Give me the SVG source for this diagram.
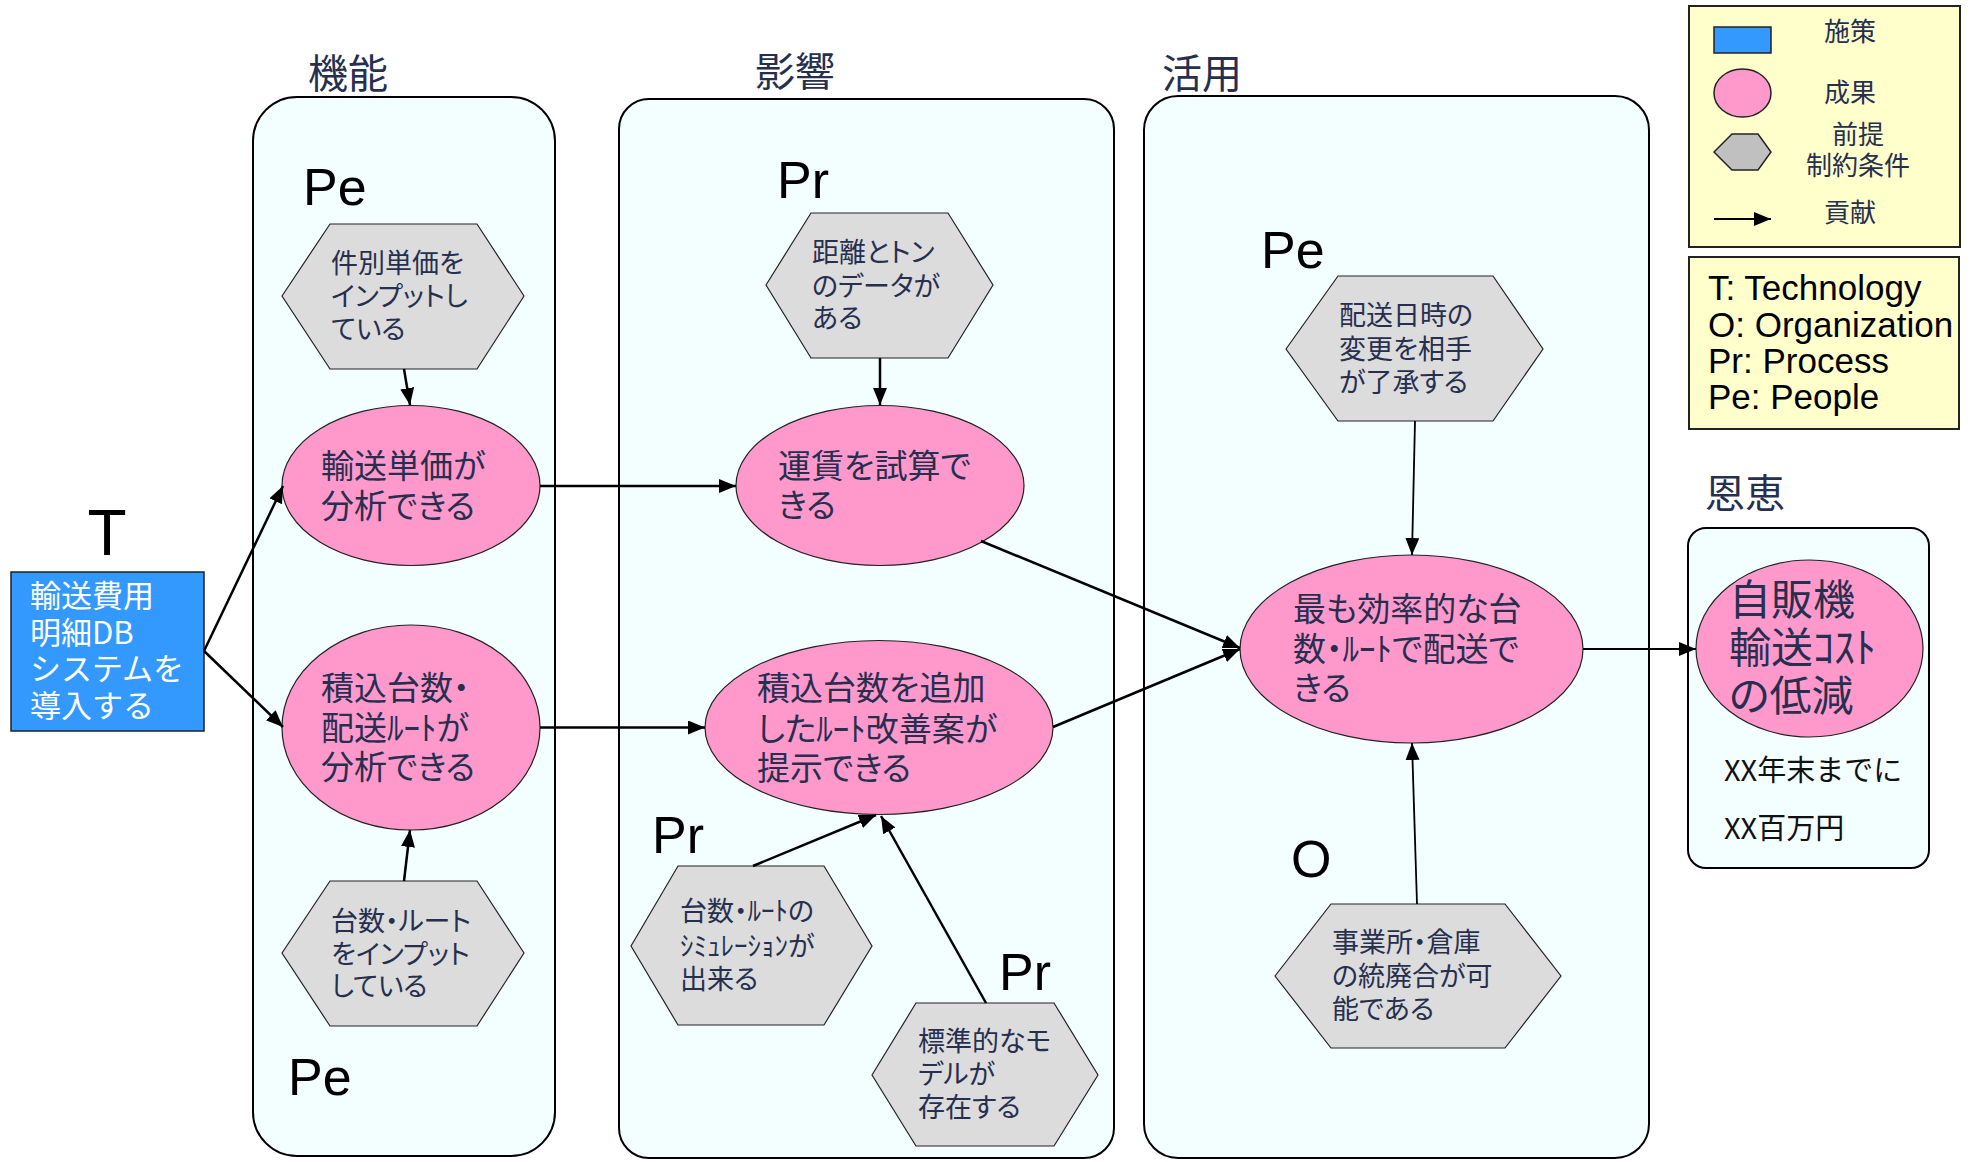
<svg xmlns="http://www.w3.org/2000/svg" width="1972" height="1162" viewBox="0 0 1972 1162">
<style>
.panel{fill:#f3ffff;stroke:#000;stroke-width:2}
.ell{fill:#ff99cc;stroke:#222;stroke-width:1.2}
.hex{fill:#dcdcdc;stroke:#222;stroke-width:1.2}
.jp{font-family:"Noto Sans CJK JP","Noto Sans",sans-serif;fill:#272f4f;font-feature-settings:"palt" 1}
.title{font-size:40px}
.et{font-size:33px}
.ht{font-size:27px}
.lat{font-family:"Liberation Sans",Arial,sans-serif;fill:#000}
.lbl{font-size:52px}
.conn{stroke:#000;stroke-width:2.5;fill:none;marker-end:url(#ah)}
.thin{stroke-width:1.8}
</style>
<defs>
<marker id="ah" markerUnits="userSpaceOnUse" markerWidth="18" markerHeight="16" refX="17" refY="7" orient="auto">
<path d="M0,0 L17,7 L0,14 z" fill="#000"/>
</marker>
</defs>
<rect width="1972" height="1162" fill="#fff"/>

<g id="panels">
<rect id="panel-kinou" class="panel" x="253" y="97" width="302" height="1059" rx="44" ry="44"/>
<rect id="panel-eikyou" class="panel" x="619" y="99" width="495" height="1059" rx="30" ry="30"/>
<rect id="panel-katsuyou" class="panel" x="1144" y="96" width="505" height="1062" rx="34" ry="34"/>
<rect id="panel-onkei" class="panel" x="1688" y="528" width="241" height="340" rx="18" ry="18"/>
<text class="jp title" x="308" y="88">機能</text>
<text class="jp title" x="755" y="86">影響</text>
<text class="jp title" x="1162" y="88">活用</text>
<text class="jp title" x="1705" y="508">恩恵</text>
</g>

<g id="labels">
<text class="lat" x="107" y="555" font-size="64" text-anchor="middle">T</text>
<text class="lat lbl" x="303" y="205">Pe</text>
<text class="lat lbl" x="288" y="1095">Pe</text>
<text class="lat lbl" x="777" y="198">Pr</text>
<text class="lat lbl" x="652" y="853">Pr</text>
<text class="lat lbl" x="999" y="990">Pr</text>
<text class="lat lbl" x="1261" y="268">Pe</text>
<text class="lat lbl" x="1291" y="877">O</text>
</g>

<g id="node-system">
<rect x="11" y="572" width="193" height="159" fill="#3399ff" stroke="#222" stroke-width="1.5"/>
<text font-family="Noto Sans CJK JP,sans-serif" font-size="31" fill="#fff"><tspan x="30" y="607">輸送費用</tspan><tspan x="30" y="644">明細DB</tspan><tspan x="30" y="680">システムを</tspan><tspan x="30" y="717">導入する</tspan></text>
</g>

<g id="node-e1">
<ellipse class="ell" cx="411" cy="485.5" rx="129" ry="80"/>
<text class="jp et"><tspan x="321" y="478">輸送単価が</tspan><tspan x="321" y="518">分析できる</tspan></text>
</g>
<g id="node-e2">
<ellipse class="ell" cx="411" cy="727.5" rx="129" ry="102.5"/>
<text class="jp et"><tspan x="321" y="700">積込台数・</tspan><tspan x="321" y="740">配送ﾙｰﾄが</tspan><tspan x="321" y="779">分析できる</tspan></text>
</g>
<g id="node-h1">
<polygon class="hex" points="282,296 330,224 477,224 524,296 477,369 330,369"/>
<text class="jp ht"><tspan x="331" y="273">件別単価を</tspan><tspan x="331" y="306">インプットし</tspan><tspan x="331" y="339">ている</tspan></text>
</g>
<g id="node-h2">
<polygon class="hex" points="282,953 330,881 477,881 524,953 477,1026 330,1026"/>
<text class="jp ht"><tspan x="331" y="931">台数・ルート</tspan><tspan x="331" y="964">をインプット</tspan><tspan x="331" y="996">している</tspan></text>
</g>

<g id="node-e3">
<ellipse class="ell" cx="880" cy="485.5" rx="144" ry="80"/>
<text class="jp et" font-size="32"><tspan x="778" y="478">運賃を試算で</tspan><tspan x="778" y="517">きる</tspan></text>
</g>
<g id="node-h3">
<polygon class="hex" points="766,285 811,213 948,213 993,285 948,358 811,358"/>
<text class="jp ht"><tspan x="812" y="262">距離とトン</tspan><tspan x="812" y="296">のデータが</tspan><tspan x="812" y="328">ある</tspan></text>
</g>
<g id="node-e4">
<ellipse class="ell" cx="879" cy="727.5" rx="174" ry="87"/>
<text class="jp et"><tspan x="757" y="700">積込台数を追加</tspan><tspan x="757" y="741">したﾙｰﾄ改善案が</tspan><tspan x="757" y="780">提示できる</tspan></text>
</g>
<g id="node-h4">
<polygon class="hex" points="631,946 678,866 824,866 872,946 824,1025 678,1025"/>
<text class="jp ht"><tspan x="680" y="921">台数・ﾙｰﾄの</tspan><tspan x="680" y="956">ｼﾐｭﾚｰｼｮﾝが</tspan><tspan x="680" y="989">出来る</tspan></text>
</g>
<g id="node-h5">
<polygon class="hex" points="872,1075 916,1003 1054,1003 1098,1075 1054,1146 916,1146"/>
<text class="jp ht"><tspan x="918" y="1051">標準的なモ</tspan><tspan x="918" y="1084">デルが</tspan><tspan x="918" y="1117">存在する</tspan></text>
</g>

<g id="node-e5">
<ellipse class="ell" cx="1411.5" cy="649" rx="171.5" ry="94"/>
<text class="jp et"><tspan x="1293" y="621">最も効率的な台</tspan><tspan x="1293" y="661">数・ﾙｰﾄで配送で</tspan><tspan x="1293" y="700">きる</tspan></text>
</g>
<g id="node-h6">
<polygon class="hex" points="1286,349 1338,276 1493,276 1543,349 1493,421 1338,421"/>
<text class="jp ht"><tspan x="1339" y="325">配送日時の</tspan><tspan x="1339" y="359">変更を相手</tspan><tspan x="1339" y="392">が了承する</tspan></text>
</g>
<g id="node-h7">
<polygon class="hex" points="1275,976 1331,904 1505,904 1561,976 1505,1048 1331,1048"/>
<text class="jp ht"><tspan x="1332" y="952">事業所・倉庫</tspan><tspan x="1332" y="986">の統廃合が可</tspan><tspan x="1332" y="1019">能である</tspan></text>
</g>

<g id="node-benefit">
<ellipse class="ell" cx="1809.5" cy="648.5" rx="113.5" ry="88.5"/>
<text class="jp" font-size="42"><tspan x="1729" y="615">自販機</tspan><tspan x="1729" y="663">輸送ｺｽﾄ</tspan><tspan x="1729" y="711">の低減</tspan></text>
<text font-family="Noto Sans CJK JP,sans-serif" font-size="29" fill="#111"><tspan x="1724" y="781">XX年末までに</tspan><tspan x="1724" y="839">XX百万円</tspan></text>
</g>

<g id="legend">
<rect x="1689" y="6" width="271" height="241" fill="#ffffcc" stroke="#222" stroke-width="2"/>
<rect x="1714" y="27" width="57" height="26" fill="#3399ff" stroke="#222" stroke-width="1.5"/>
<ellipse cx="1742.5" cy="93" rx="28.5" ry="24" fill="#ff99cc" stroke="#222" stroke-width="1.5"/>
<polygon points="1714,152 1732,134 1758,134 1771,152 1758,170 1732,170" fill="#c0c0c0" stroke="#222" stroke-width="1.5"/>
<text class="jp" font-size="26" text-anchor="middle"><tspan x="1850" y="41">施策</tspan><tspan x="1850" y="102">成果</tspan><tspan x="1858" y="144">前提</tspan><tspan x="1858" y="175">制約条件</tspan><tspan x="1850" y="222">貢献</tspan></text>
</g>
<g id="legend-tope">
<rect x="1689" y="257" width="270" height="172" fill="#ffffcc" stroke="#222" stroke-width="2"/>
<text class="lat" font-size="35"><tspan x="1708" y="300">T: Technology</tspan><tspan x="1708" y="337">O: Organization</tspan><tspan x="1708" y="373">Pr: Process</tspan><tspan x="1708" y="409">Pe: People</tspan></text>
</g>

<g id="connectors">
<path class="conn" d="M204,651 L283,486"/>
<path class="conn" d="M204,651 L283,727"/>
<path class="conn" d="M404,369 L410,405"/>
<path class="conn" d="M404,881 L410,830"/>
<path class="conn" d="M540,486 L736,486"/>
<path class="conn" d="M540,727.5 L705,727.5"/>
<path class="conn" d="M880,358 L880,405"/>
<path class="conn" d="M753,866 L876,815"/>
<path class="conn" d="M986,1003 L881,816"/>
<path class="conn" d="M981,541 L1240,648"/>
<path class="conn" d="M1053,727 L1240,649"/>
<path class="conn thin" d="M1415,421 L1412,555"/>
<path class="conn thin" d="M1417,904 L1412,743"/>
<path class="conn thin" d="M1583,649 L1696,649"/>
<path class="conn thin" d="M1714,219 L1771,219"/>
</g>
</svg>
